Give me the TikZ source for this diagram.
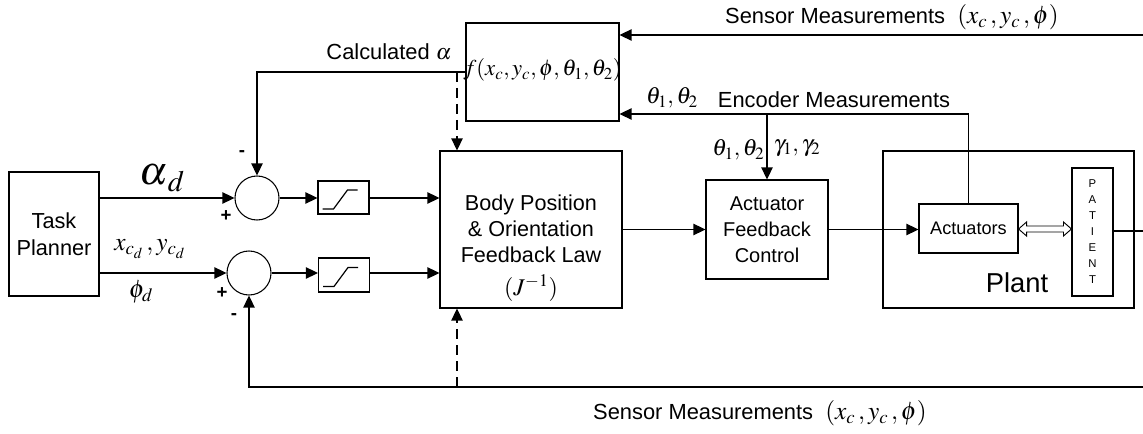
\documentclass[tikz,border=0pt]{standalone}
\usepackage{mathptmx}
\usepackage{fontspec}
\setmainfont{Liberation Sans}
\usetikzlibrary{arrows.meta,calc}
\begin{document}
\begin{tikzpicture}[x=0.75pt,y=-0.75pt, line width=0.9pt,
  blk/.style={draw, line width=0.8pt, inner sep=0pt, align=center, font=\fontsize{15}{19.5}\selectfont},
  sumc/.style={draw, circle, line width=0.8pt, minimum size=33pt, inner sep=0pt},
  arr/.style={-{Triangle[length=9pt,width=8.5pt]}},
  lab/.style={inner sep=0pt, font=\fontsize{16.4}{19}\selectfont},
  mlab/.style={inner sep=0pt, font=\fontsize{17.5}{21}\selectfont},
  sgn/.style={inner sep=0pt, font=\bfseries\fontsize{14}{16}\selectfont},
  dsh/.style={dash pattern=on 7.5pt off 4.5pt}]
\useasboundingbox (0,0) rectangle (1143,434);

% blocks
\node[blk, minimum width=67.5pt, minimum height=93pt, font=\fontsize{16.3}{20}\selectfont] (tp) at (54,234) {Task\\Planner};
\node[sumc] (c1) at (257,198) {};
\node[sumc] (c2) at (249,273) {};
\node[blk, minimum width=38.25pt, minimum height=24.75pt] (s1) at (343.5,197.5) {};
\node[blk, minimum width=38.25pt, minimum height=25.5pt] (s2) at (344,275) {};
\node[blk, minimum width=136.5pt, minimum height=117.75pt] (body) at (531,229.5) {};
\node[blk, minimum width=114.75pt, minimum height=73.5pt] (f) at (542.5,72) {};
\node[blk, minimum width=91.5pt, minimum height=74.25pt] (act) at (767,229.5) {Actuator\\Feedback\\Control};
\node[blk, minimum width=188.25pt, minimum height=117.75pt] (plant) at (1008.5,229.5) {};
\node[blk, minimum width=74.25pt, minimum height=36.75pt, font=\fontsize{13.6}{15}\selectfont] (acts) at (968.5,228.5) {Actuators};
\node[blk, minimum width=30.75pt, minimum height=96pt, font=\fontsize{8.5}{12}\selectfont] (pat) at (1092.5,232) {P\\A\\T\\I\\E\\N\\T};

% texts inside body and f
\node[lab, align=center, font=\fontsize{16.2}{19.5}\selectfont] (bodyt) at (531,229) {Body Position\\\& Orientation\\Feedback Law};
\node[mlab, font=\fontsize{18}{21}\selectfont] (jinv) at (531,288) {$(J^{-1})$};
\node[mlab, font=\fontsize{17}{21}\selectfont] (ft) at (542.5,70) {$f(x_c,y_c,\phi,\theta_1,\theta_2)$};
\node[lab, font=\fontsize{20.5}{24}\selectfont] (plantt) at (1017,283) {Plant};

% saturation symbols
\draw[line width=0.9pt] ([shift={(-21,11.5)}]s1.center) -- ++(11,0) -- ++(14,-19) -- ++(10,0);
\draw[line width=0.9pt] ([shift={(-21,11.5)}]s2.center) -- ++(11,0) -- ++(14,-19) -- ++(10,0);

% forward path
\draw[arr] (tp.east |- c1) -- (c1.west);
\draw[arr] (tp.east |- c2) -- (c2.west);
\draw[arr] (c1.east) -- (c1.east -| s1.west);
\draw[arr] (c2.east) -- (c2.east -| s2.west);
\draw[arr] (s1.east |- c1) -- (c1 -| body.west);
\draw[arr] (c2.east -| s2.east) -- (c2 -| body.west);
\draw[arr] (body.east) -- (act.west);
\draw[arr] (act.east) -- (act.east -| acts.west);

% double arrow Actuators <-> Patient
\draw[line width=0.7pt, fill=white] (acts.east |- 0,229)
  -- ++(8,-7) -- ++(0,4) -- ($(pat.west |- 0,226)+(-8,0)$) -- ++(0,-4) -- (pat.west |- 0,229)
  -- ++(-8,7) -- ++(0,-4) -- ($(acts.east |- 0,232)+(8,0)$) -- ++(0,4) -- cycle;

% patient output
\coordinate (pr) at (1143,231);
\draw (pat.east |- pr) -- (pr);

% calculated alpha loop
\coordinate (dj) at (457,72);
\draw[arr] (f.west) -| (c1.north);
\draw[arr, dsh] (dj) -- (dj |- body.north);

% sensor measurement top
\coordinate (tr) at (1143,35);
\draw[arr] (tr) -- (tr -| f.east);

% encoder
\coordinate (ej) at (968.5,114);
\coordinate (bj) at (767,114);
\draw[arr] (acts.north) -- (ej) -- (ej -| f.east);
\draw[arr] (bj) -- (act.north);

% bottom feedback
\coordinate (br) at (1143,387);
\coordinate (dk) at (457,387);
\draw[arr] (br) -| (c2.south);
\draw[arr, dsh] (dk) -- (dk |- body.south);

% labels
\node[lab] (calc) at (389,52) {Calculated $\alpha$};
\node[sgn] (m1) at (242,154) {-};
\node[sgn] (p1) at (226,216) {+};
\node[sgn] (p2) at (222,293) {+};
\node[sgn] (m2) at (234,317) {-};
\node[inner sep=0pt, font=\fontsize{30}{34}\selectfont] (ad) at (162,178) {$\alpha_{\,d}$};
\node[mlab, font=\fontsize{19}{22}\selectfont] (xyd) at (150,249) {$x_{c_d}\,,y_{c_d}$};
\node[mlab, font=\fontsize{19}{22}\selectfont] (phd) at (141,292) {$\phi_d$};
\node[mlab] (th1) at (672,98) {$\theta_1,\theta_2$};
\node[lab] (encl) at (834,100) {Encoder Measurements};
\node[mlab, anchor=east] (th2) at (765,150) {$\theta_1,\theta_2$};
\node[mlab, anchor=west] (gam) at (773,148) {$\gamma_1,\gamma_2$};
\node[lab] (senst) at (892,17) {Sensor Measurements\ \ {\fontsize{19}{22}\selectfont$(x_c\,,y_c\,,\phi)$}};
\node[lab] (sensb) at (760,413) {Sensor Measurements\ \ {\fontsize{19}{22}\selectfont$(x_c\,,y_c\,,\phi)$}};
\end{tikzpicture}
\end{document}
